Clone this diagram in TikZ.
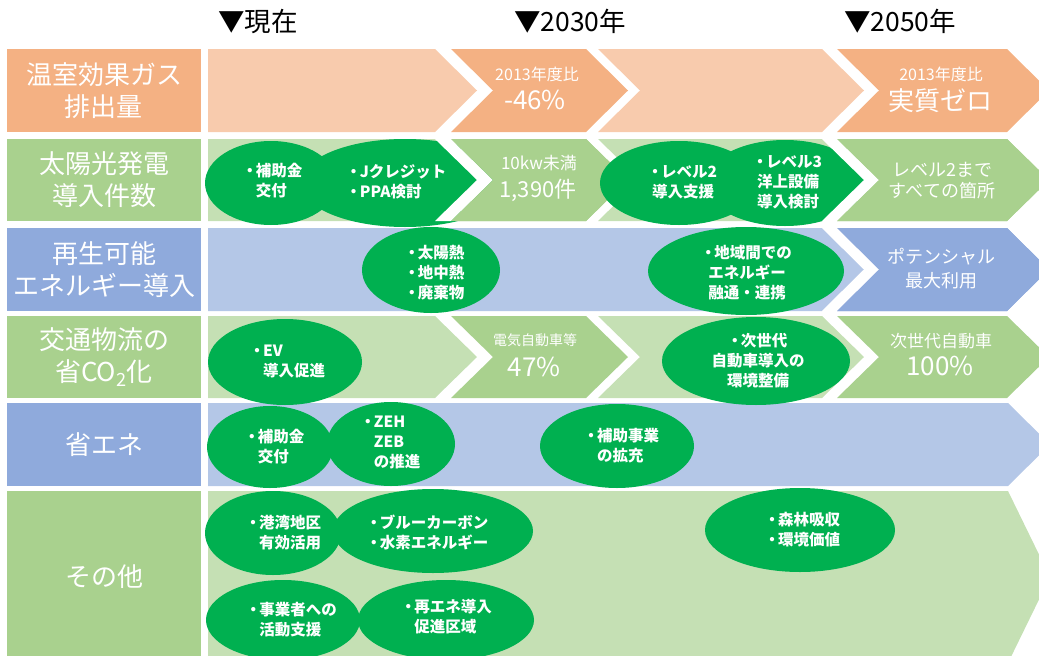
\documentclass[tikz,border=0pt]{standalone}
\usepackage{fontspec}
\setmainfont{Noto Sans CJK JP}
\usetikzlibrary{shapes.geometric}
\definecolor{orD}{HTML}{F4B183}
\definecolor{orL}{HTML}{F8CBAD}
\definecolor{grD}{HTML}{A9D18E}
\definecolor{grL}{HTML}{C5E0B4}
\definecolor{blD}{HTML}{8FAADC}
\definecolor{blL}{HTML}{B4C7E7}
\definecolor{bubg}{HTML}{00B050}
\newcommand{\fchev}[4]{(#1,#3) -- (#2,#3) -- ({#2+42},{(#3+#4)/2}) -- (#2,#4) -- (#1,#4) -- cycle}
\newcommand{\nchev}[4]{(#1,#3) -- (#2,#3) -- ({#2+42},{(#3+#4)/2}) -- (#2,#4) -- (#1,#4) -- ({#1+42},{(#3+#4)/2}) -- cycle}
\newcommand{\gapband}[4]{(#1,#3) -- ({#1+42},{(#3+#4)/2}) -- (#1,#4) -- (#2,#4) -- ({#2+42},{(#3+#4)/2}) -- (#2,#3) -- cycle}
\newcommand{\bl}{\makebox[0.8em][c]{・}}
\newcommand{\ind}{\hspace*{0.8em}}
\begin{document}
\begin{tikzpicture}[x=1pt,y=-1pt,
  hdr/.style={font=\fontsize{26.5}{30}\selectfont, text=black, inner sep=0},
  lab/.style={text=white, align=center, font=\fontsize{26}{32}\selectfont, minimum width=194pt, inner sep=0},
  ct/.style={text=white, inner sep=0, align=center},
  bub/.style 2 args={ellipse, fill=bubg, inner sep=0, minimum width=#1pt, minimum height=#2pt},
  bt/.style={text=white, inner sep=0, font=\bfseries\fontsize{15.5}{20}\selectfont}]
\useasboundingbox (0,0) rectangle (1039,656);
\clip (0,0) rectangle (1039,656);

% headers
\node[hdr] (h1) at (258,21.5) {▼現在};
\node[hdr] (h2) at (570,21.5) {▼2030年};
\node[hdr] (h3) at (900,21.5) {▼2050年};

% row labels
\node[lab, fill=orD, minimum height=83pt] (l1) at (104,90.5) {温室効果ガス\\排出量};
\node[lab, fill=grD, minimum height=82pt] (l2) at (104,180) {太陽光発電\\導入件数};
\node[lab, fill=blD, minimum height=83pt] (l3) at (104,269.5) {再生可能\\エネルギー導入};
\node[lab, fill=grD, minimum height=82pt] (l4) at (104,357) {交通物流の\\省CO\textsubscript{2}化};
\node[lab, fill=blD, minimum height=83pt] (l5) at (104,444.5) {省エネ};
\node[lab, fill=grD, minimum height=172pt] (l6) at (104,577) {その他};

% row 1
\fill[orL] \fchev{208}{435}{49}{132};
\fill[orD] \nchev{451}{586}{49}{132};
\fill[orL] \nchev{598}{822}{49}{132};
\fill[orD] \nchev{837}{1007}{49}{132};
% row 2
\fill[grL] \fchev{208}{435}{139}{221};
\fill[grD] \nchev{451}{586}{139}{221};
\fill[grL] \nchev{598}{822}{139}{221};
\fill[grD] \nchev{837}{1007}{139}{221};
% row 3
\fill[blL] \fchev{208}{822}{228}{311};
\fill[blD] \nchev{837}{1007}{228}{311};
% row 4
\fill[grL] \fchev{208}{435}{316}{398};
\fill[grD] \nchev{451}{586}{316}{398};
\fill[grL] \nchev{598}{822}{316}{398};
\fill[grD] \nchev{837}{1007}{316}{398};
% row 5
\fill[blL] \fchev{208}{1008}{403}{486};
% row 6
\fill[grL] \fchev{208}{1008}{491}{663};

% row 2 bubbles
\node[bub={132}{84}] (b21) at (271,183) {};
\node[bub={210}{88}] (b22) at (405,183) {};
\fill[white] \gapband{435}{451}{139}{221};
\fill[grD] \nchev{451}{586}{139}{221};
\node[bub={158}{84}] (b23) at (679,183) {};
\node[bub={160}{86}] (b24) at (785,183) {};
\fill[white] \gapband{822}{837}{139}{221};
\fill[grD] \nchev{837}{1007}{139}{221};
% row 3 bubbles
\node[bub={138}{86}] (b31) at (431,270) {};
\node[bub={196}{88}] (b32) at (746,271) {};
\fill[white] \gapband{822}{837}{228}{311};
\fill[blD] \nchev{837}{1007}{228}{311};
% row 4 bubbles
\node[bub={154}{86}] (b41) at (285,362) {};
\node[bub={188}{88}] (b42) at (756,361) {};
% row 5 bubbles
\node[bub={126}{82}] (b51) at (270,447) {};
\node[bub={128}{84}] (b52) at (391,444) {};
\node[bub={154}{84}] (b53) at (617,446) {};
% row 6 bubbles
\node[bub={136}{84}] (b61) at (273,533) {};
\node[bub={200}{84}] (b62) at (433,531) {};
\node[bub={154}{80}] (b63) at (283,620) {};
\node[bub={176}{80}] (b64) at (446,620) {};
\node[bub={190}{84}] (b65) at (800,530) {};

% chevron texts
\node[ct, font=\fontsize{16}{18}\selectfont] (t1a) at (537,74) {2013年度比};
\node[ct, font=\fontsize{26}{28}\selectfont] (t1b) at (535,100) {-46\%};
\node[ct, font=\fontsize{16}{18}\selectfont] (t1c) at (941,74) {2013年度比};
\node[ct, font=\fontsize{26}{28}\selectfont] (t1d) at (940,101) {実質ゼロ};
\node[ct, font=\fontsize{17}{18}\selectfont] (t2a) at (539,163) {10kw未満};
\node[ct, font=\fontsize{22}{24}\selectfont] (t2b) at (538,190) {1,390件};
\node[ct, font=\fontsize{18}{21}\selectfont] (t2c) at (942,181) {レベル2まで\\すべての箇所};
\node[ct, font=\fontsize{18}{24}\selectfont] (t3a) at (941,269) {ポテンシャル\\最大利用};
\node[ct, font=\fontsize{14}{16}\selectfont] (t4a) at (535,340) {電気自動車等};
\node[ct, font=\fontsize{26}{28}\selectfont] (t4b) at (534,367) {47\%};
\node[ct, font=\fontsize{17}{19}\selectfont] (t4c) at (941,341) {次世代自動車};
\node[ct, font=\fontsize{26}{28}\selectfont] (t4d) at (940,366) {100\%};

% bubble texts
\node[bt, align=left] (b21t) at (273,181) {\bl 補助金\\\ind 交付};
\node[bt, align=left] (b22t) at (397,182) {\bl Jクレジット\\\bl PPA検討};
\node[bt, align=center] (b23t) at (683,182) {\bl レベル2\\導入支援};
\node[bt, align=center] (b24t) at (788,182) {\bl レベル3\\洋上設備\\導入検討};
\node[bt, align=left] (b31t) at (435,273) {\bl 太陽熱\\\bl 地中熱\\\bl 廃棄物};
\node[bt, align=center] (b32t) at (747,273) {\bl 地域間での\\エネルギー\\融通・連携};
\node[bt, align=left] (b41t) at (288,361) {\bl EV\\\ind 導入促進};
\node[bt, align=center] (b42t) at (758,361) {\bl 次世代\\自動車導入の\\環境整備};
\node[bt, align=left] (b51t) at (275,447) {\bl 補助金\\\ind 交付};
\node[bt, align=left] (b52t) at (391,442) {\bl ZEH\\\ind ZEB\\\ind の推進};
\node[bt, align=left] (b53t) at (622,446) {\bl 補助事業\\\ind の拡充};
\node[bt, align=left] (b61t) at (284,533) {\bl 港湾地区\\\ind 有効活用};
\node[bt, align=left] (b62t) at (428,532) {\bl ブルーカーボン\\\bl 水素エネルギー};
\node[bt, align=left] (b63t) at (292,620) {\bl 事業者への\\\ind 活動支援};
\node[bt, align=left] (b64t) at (447,617) {\bl 再エネ導入\\\ind 促進区域};
\node[bt, align=left] (b65t) at (803,530) {\bl 森林吸収\\\bl 環境価値};
\end{tikzpicture}
\end{document}
